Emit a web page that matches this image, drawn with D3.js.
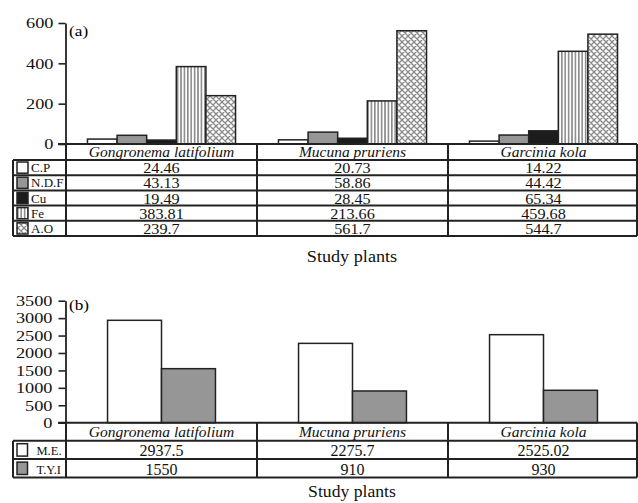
<!DOCTYPE html>
<html>
<head>
<meta charset="utf-8">
<script src="https://cdn.jsdelivr.net/npm/d3@7"></script>
<style>
  html, body { margin: 0; padding: 0; background: #fff; }
  svg { display: block; font-family: "Liberation Serif", "Times New Roman", serif; }
</style>
</head>
<body>
<svg id="chart" width="638" height="503"></svg>
<script>
// ---------- DATA ----------
const categories = ["Gongronema latifolium", "Mucuna pruriens", "Garcinia kola"];
const seriesA = ["C.P", "N.D.F", "Cu", "Fe", "A.O"];
const cpValues  = [24.46, 20.73, 14.22];
const ndfValues = [43.13, 58.86, 44.42];
const cuValues  = [19.49, 28.45, 65.34];
const feValues  = [383.81, 213.66, 459.68];
const aoValues  = [239.7, 561.7, 544.7];
const seriesB = ["M.E.", "T.Y.I"];
const meValues  = [2937.5, 2275.7, 2525.02];
const tyiValues = [1550, 910, 930];
const ticksA = [0, 200, 400, 600];
const ticksB = [0, 500, 1000, 1500, 2000, 2500, 3000, 3500];
const xTitle = "Study plants";

const dataA = [cpValues, ndfValues, cuValues, feValues, aoValues];
const dataB = [meValues, tyiValues];

// ---------- SETUP ----------
const svg = d3.select("#chart");
const defs = svg.append("defs");

const pFe = defs.append("pattern").attr("id", "pFe").attr("patternUnits", "userSpaceOnUse")
  .attr("width", 3.4).attr("height", 10);
pFe.append("rect").attr("width", 3.4).attr("height", 10).attr("fill", "#fff");
pFe.append("rect").attr("x", 0).attr("width", 1.6).attr("height", 10).attr("fill", "#8a8a8a");

const pAO = defs.append("pattern").attr("id", "pAO").attr("patternUnits", "userSpaceOnUse")
  .attr("width", 6).attr("height", 6);
pAO.append("rect").attr("width", 6).attr("height", 6).attr("fill", "#fff");
pAO.append("path").attr("d", "M0,0L6,6M6,0L0,6M-1,5L1,7M5,-1L7,1M-1,1L1,-1M5,7L7,5")
  .attr("stroke", "#8a8a8a").attr("stroke-width", 1.3).attr("fill", "none");

const fillsA = ["#ffffff", "#969696", "#1c1c1c", "url(#pFe)", "url(#pAO)"];
const fillsB = ["#ffffff", "#969696"];
const lineColor = "#222";

const x0 = d3.scaleBand().domain(categories).range([66, 639]).paddingInner(0).paddingOuter(0);
const tableRight = 637;
const tableLeft = 13;

function stretchTicks(g, sx, pad) {
  g.selectAll(".tick text")
    .attr("font-family", "Liberation Serif, serif")
    .attr("font-size", 15)
    .attr("fill", "#111")
    .attr("x", -pad / sx)
    .attr("transform", `scale(${sx},1)`);
  g.selectAll(".tick line").attr("stroke", lineColor).attr("stroke-width", 1.6);
  g.select(".domain").attr("stroke", lineColor).attr("stroke-width", 1.8);
}

// ---------- PANEL A ----------
(function () {
  const y = d3.scaleLinear().domain([0, 600]).range([144, 23]);
  const x1 = d3.scaleBand().domain(seriesA).range([0, x0.bandwidth()]).paddingInner(0).paddingOuter(0.725);
  const g = svg.append("g");

  categories.forEach((c, ci) => {
    seriesA.forEach((s, si) => {
      const v = dataA[si][ci];
      g.append("rect")
        .attr("x", x0(c) + x1(s))
        .attr("y", y(v))
        .attr("width", x1.bandwidth())
        .attr("height", y(0) - y(v))
        .attr("fill", fillsA[si])
        .attr("stroke", lineColor)
        .attr("stroke-width", 1.5);
    });
  });

  const ax = svg.append("g").attr("transform", "translate(65.5,0)")
    .call(d3.axisLeft(y).tickValues(ticksA).tickSize(7).tickSizeOuter(0).tickFormat(d3.format("d")));
  stretchTicks(ax, 1.22, 12);

  svg.append("text").attr("x", 69).attr("y", 36).attr("font-size", 15)
    .attr("transform", "translate(69,0) scale(1.15,1) translate(-69,0)").text("(a)");

  const headTop = y(0), headBot = 160;
  const rowH = (236 - headBot) / seriesA.length;
  const t = svg.append("g");
  t.append("line").attr("x1", 58).attr("x2", tableRight).attr("y1", headTop).attr("y2", headTop)
    .attr("stroke", lineColor).attr("stroke-width", 2);
  categories.forEach(c => {
    t.append("text").attr("x", x0(c) + x0.bandwidth() / 2).attr("y", headBot - 3)
      .attr("text-anchor", "middle").attr("font-style", "italic").attr("font-size", 15.5)
      .attr("fill", "#111").text(c);
  });
  for (let i = 0; i <= seriesA.length; i++) {
    const yy = headBot + i * rowH;
    t.append("line").attr("x1", tableLeft).attr("x2", tableRight).attr("y1", yy).attr("y2", yy)
      .attr("stroke", lineColor).attr("stroke-width", 2);
  }
  t.append("line").attr("x1", tableLeft).attr("x2", tableLeft).attr("y1", headBot).attr("y2", 236)
    .attr("stroke", lineColor).attr("stroke-width", 2);
  [66, x0(categories[1]), x0(categories[2]), tableRight].forEach(xx => {
    t.append("line").attr("x1", xx).attr("x2", xx).attr("y1", headTop).attr("y2", 236)
      .attr("stroke", lineColor).attr("stroke-width", 2);
  });
  seriesA.forEach((s, si) => {
    const top = headBot + si * rowH;
    t.append("rect").attr("x", 17).attr("y", top + 2).attr("width", 11).attr("height", rowH - 4)
      .attr("fill", fillsA[si]).attr("stroke", lineColor).attr("stroke-width", 1.5);
    t.append("text").attr("x", 31).attr("y", top + rowH - 3).attr("font-size", 13)
      .attr("fill", "#111").text(s);
    categories.forEach((c, ci) => {
      t.append("text").attr("x", x0(c) + x0.bandwidth() / 2).attr("y", top + rowH - 2)
        .attr("text-anchor", "middle").attr("font-size", 15).attr("fill", "#111")
        .attr("transform", `translate(${x0(c) + x0.bandwidth() / 2},0) scale(1.08,1) translate(${-(x0(c) + x0.bandwidth() / 2)},0)`)
        .text(String(dataA[si][ci]));
    });
  });
  svg.append("text").attr("x", 352).attr("y", 262).attr("text-anchor", "middle")
    .attr("font-size", 17).attr("fill", "#111")
    .attr("transform", "translate(352,0) scale(1.07,1) translate(-352,0)").text(xTitle);
})();

// ---------- PANEL B ----------
(function () {
  const y = d3.scaleLinear().domain([0, 3500]).range([422.7, 300.7]);
  const x1 = d3.scaleBand().domain(seriesB).range([0, x0.bandwidth()]).paddingInner(0).paddingOuter(0.77);
  const g = svg.append("g");

  categories.forEach((c, ci) => {
    seriesB.forEach((s, si) => {
      const v = dataB[si][ci];
      g.append("rect")
        .attr("x", x0(c) + x1(s))
        .attr("y", y(v))
        .attr("width", x1.bandwidth())
        .attr("height", y(0) - y(v))
        .attr("fill", fillsB[si])
        .attr("stroke", lineColor)
        .attr("stroke-width", 1.5);
    });
  });

  const ax = svg.append("g").attr("transform", "translate(65.5,0)")
    .call(d3.axisLeft(y).tickValues(ticksB).tickSize(7).tickSizeOuter(0).tickFormat(d3.format("d")));
  stretchTicks(ax, 1.22, 13);

  svg.append("text").attr("x", 69).attr("y", 310).attr("font-size", 15)
    .attr("transform", "translate(69,0) scale(1.15,1) translate(-69,0)").text("(b)");

  const headTop = y(0), headBot = 440.7, bottom = 477.5;
  const rowH = (bottom - headBot) / seriesB.length;
  const t = svg.append("g");
  t.append("line").attr("x1", 58).attr("x2", tableRight).attr("y1", headTop).attr("y2", headTop)
    .attr("stroke", lineColor).attr("stroke-width", 2);
  categories.forEach(c => {
    t.append("text").attr("x", x0(c) + x0.bandwidth() / 2).attr("y", headBot - 4)
      .attr("text-anchor", "middle").attr("font-style", "italic").attr("font-size", 15.5)
      .attr("fill", "#111").text(c);
  });
  for (let i = 0; i <= seriesB.length; i++) {
    const yy = headBot + i * rowH;
    t.append("line").attr("x1", tableLeft).attr("x2", tableRight).attr("y1", yy).attr("y2", yy)
      .attr("stroke", lineColor).attr("stroke-width", 2);
  }
  t.append("line").attr("x1", tableLeft).attr("x2", tableLeft).attr("y1", headBot).attr("y2", bottom)
    .attr("stroke", lineColor).attr("stroke-width", 2);
  [66, x0(categories[1]), x0(categories[2]), tableRight].forEach(xx => {
    t.append("line").attr("x1", xx).attr("x2", xx).attr("y1", headTop).attr("y2", bottom)
      .attr("stroke", lineColor).attr("stroke-width", 2);
  });
  seriesB.forEach((s, si) => {
    const top = headBot + si * rowH;
    t.append("rect").attr("x", 17).attr("y", top + 3).attr("width", 10.5).attr("height", rowH - 6)
      .attr("fill", fillsB[si]).attr("stroke", lineColor).attr("stroke-width", 1.5);
    t.append("text").attr("x", 36.5).attr("y", top + rowH - 4).attr("font-size", 12.5)
      .attr("fill", "#111").text(s);
    categories.forEach((c, ci) => {
      t.append("text").attr("x", x0(c) + x0.bandwidth() / 2).attr("y", top + rowH - 3)
        .attr("text-anchor", "middle").attr("font-size", 16).attr("fill", "#111")
        .text(String(dataB[si][ci]));
    });
  });
  svg.append("text").attr("x", 352).attr("y", 497).attr("text-anchor", "middle")
    .attr("font-size", 16.5).attr("fill", "#111")
    .attr("transform", "translate(352,0) scale(1.07,1) translate(-352,0)").text(xTitle);
})();
</script>
</body>
</html>
